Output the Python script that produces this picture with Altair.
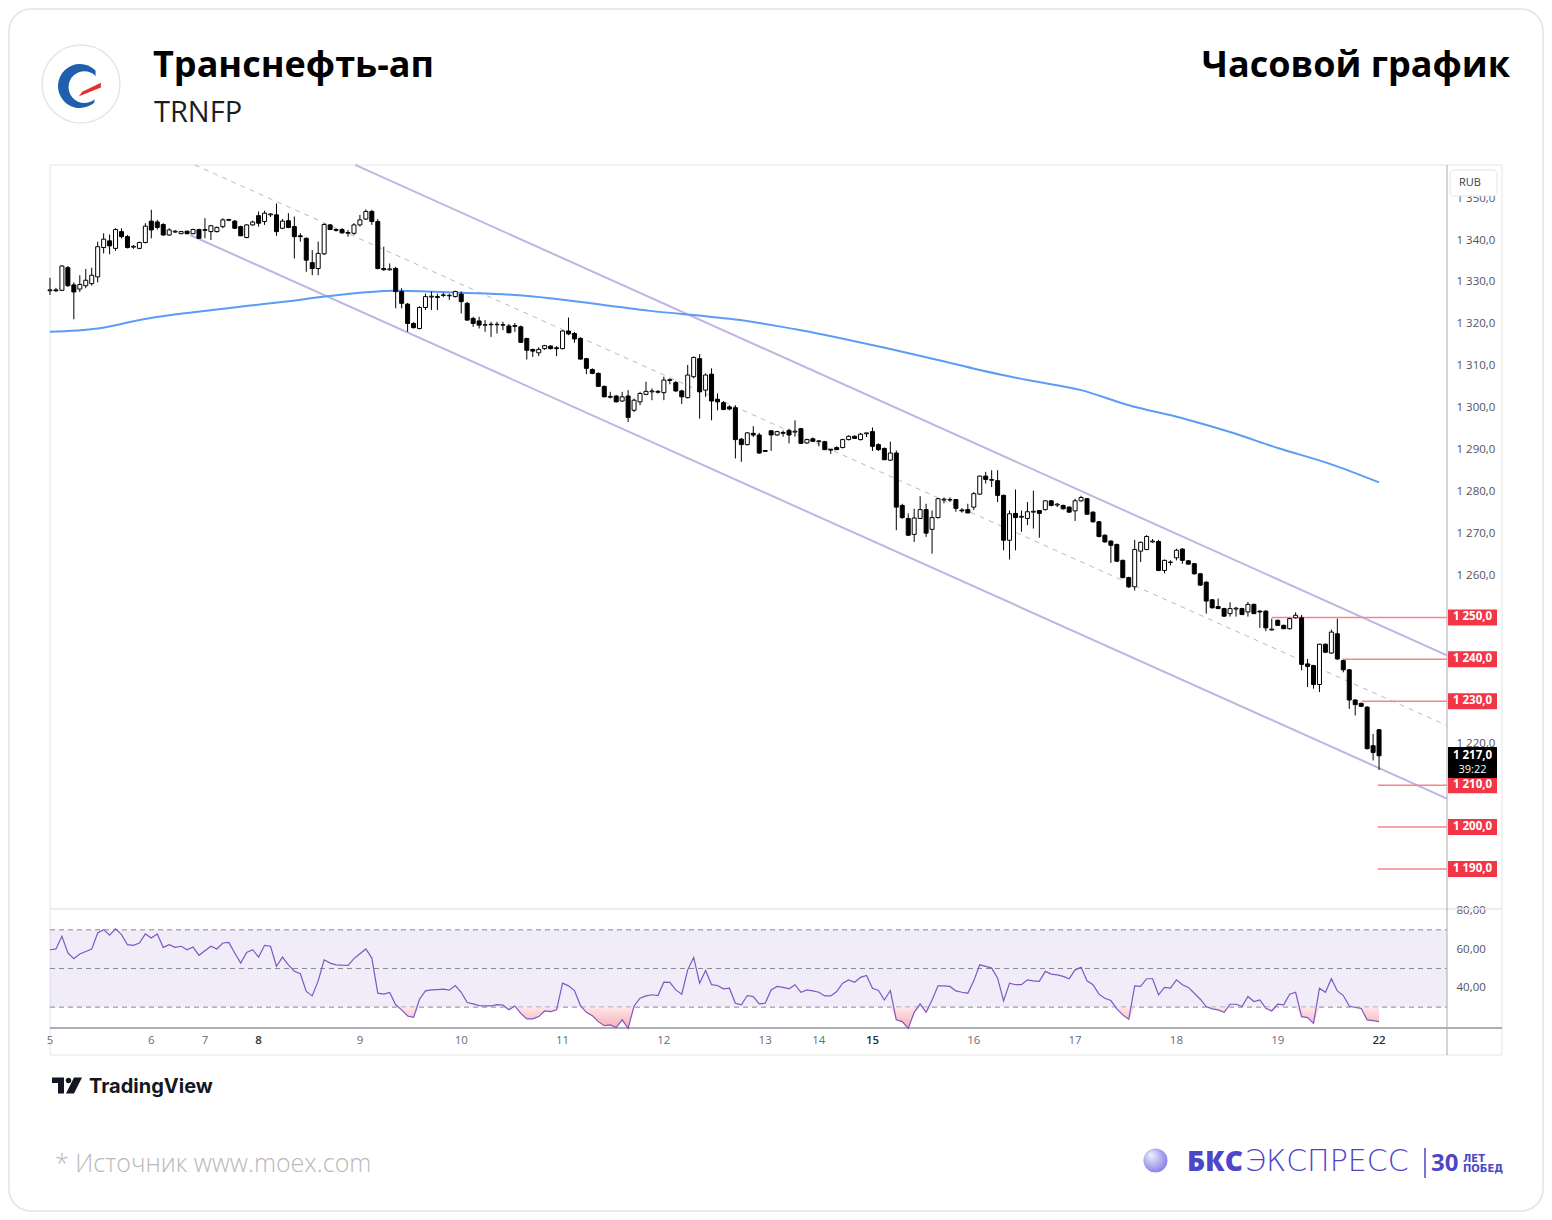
import altair as alt
import pandas as pd

# ---------------- data ----------------
OPEN = [
    1327.9, 1328.1, 1328.0, 1333.4, 1329.3, 1328.3, 1329.1, 1329.6, 1331.2, 1338.2,
    1339.8, 1338.0, 1342.0, 1340.8, 1338.3, 1338.0, 1339.4, 1344.5, 1344.3, 1343.7,
    1341.2, 1341.9, 1341.5, 1342.1, 1341.5, 1342.5, 1342.3, 1342.0, 1342.0, 1343.2,
    1344.7, 1344.5, 1343.2, 1340.6, 1343.6, 1345.8, 1344.4, 1346.0, 1346.0, 1342.8,
    1344.6, 1343.2, 1341.0, 1340.4, 1334.6, 1333.2, 1336.7, 1343.6, 1342.5, 1342.5,
    1341.6, 1341.6, 1343.6, 1345.0, 1346.8, 1344.4, 1333.2, 1332.9, 1333.2, 1327.7,
    1324.7, 1320.1, 1318.9, 1323.9, 1326.4, 1326.5, 1326.8, 1326.7, 1326.5, 1327.1,
    1324.9, 1321.3, 1320.7, 1319.7, 1319.9, 1319.8, 1319.8, 1319.5, 1319.4, 1319.3,
    1316.5, 1313.9, 1313.1, 1314.1, 1314.7, 1314.3, 1314.1, 1318.3, 1317.7, 1316.5,
    1311.7, 1309.1, 1308.2, 1305.1, 1302.5, 1302.8, 1301.6, 1302.8, 1299.4, 1301.4,
    1303.2, 1303.8, 1303.9, 1303.6, 1306.5, 1306.0, 1304.0, 1302.4, 1307.4, 1311.7,
    1304.2, 1308.0, 1302.0, 1301.2, 1300.2, 1300.0, 1292.5, 1291.2, 1293.9, 1293.5,
    1289.8, 1294.5, 1293.5, 1293.9, 1294.6, 1294.2, 1295.0, 1291.6, 1292.6, 1291.9,
    1291.9, 1290.1, 1290.5, 1290.5, 1292.4, 1293.2, 1292.4, 1293.8, 1294.3, 1291.2,
    1290.3, 1287.5, 1289.2, 1276.7, 1273.6, 1269.8, 1273.6, 1275.7, 1271.0, 1273.8,
    1278.0, 1278.0, 1278.1, 1275.6, 1275.7, 1276.3, 1279.4, 1283.7, 1282.7, 1282.6,
    1279.1, 1268.4, 1274.8, 1273.9, 1273.6, 1275.1, 1275.5, 1275.7, 1277.8, 1276.8,
    1276.7, 1276.3, 1275.4, 1277.8, 1278.3, 1275.1, 1272.8, 1269.6, 1268.2, 1267.4,
    1263.6, 1259.5, 1257.3, 1265.8, 1266.2, 1268.0, 1268.1, 1261.2, 1263.1, 1264.2,
    1266.3, 1263.5, 1262.8, 1260.4, 1258.4, 1254.2, 1252.6, 1252.1, 1250.9, 1252.0,
    1252.1, 1251.3, 1253.1, 1251.5, 1251.5, 1247.0, 1249.3, 1248.1, 1247.3, 1249.9,
    1249.9, 1238.9, 1238.5, 1234.0, 1243.6, 1241.5, 1246.1, 1239.7, 1237.5, 1230.3,
    1229.5, 1228.6, 1219.4, 1223.2,
]
HIGH = [
    1331.0, 1328.6, 1334.0, 1333.8, 1329.9, 1331.6, 1333.1, 1333.4, 1339.6, 1341.6,
    1341.3, 1342.8, 1342.8, 1341.2, 1338.8, 1339.6, 1344.0, 1347.2, 1344.8, 1344.0,
    1342.8, 1342.4, 1342.2, 1342.2, 1342.7, 1342.7, 1345.2, 1343.6, 1343.2, 1345.2,
    1345.0, 1344.8, 1343.4, 1343.8, 1344.6, 1346.8, 1347.0, 1346.4, 1348.7, 1345.0,
    1346.4, 1345.6, 1341.6, 1340.6, 1337.6, 1339.6, 1344.0, 1343.8, 1342.8, 1342.8,
    1342.4, 1344.0, 1346.0, 1347.3, 1347.2, 1345.0, 1338.4, 1334.4, 1333.6, 1328.5,
    1325.0, 1320.4, 1324.2, 1327.2, 1327.7, 1327.2, 1327.4, 1327.2, 1327.9, 1327.7,
    1325.2, 1321.7, 1321.7, 1320.9, 1320.5, 1320.5, 1320.5, 1320.0, 1320.2, 1319.6,
    1316.7, 1314.1, 1314.4, 1315.0, 1314.9, 1314.7, 1318.5, 1321.5, 1318.1, 1316.8,
    1311.9, 1309.4, 1308.4, 1305.3, 1303.8, 1303.0, 1303.8, 1304.2, 1302.2, 1303.8,
    1306.2, 1304.6, 1304.2, 1307.4, 1307.0, 1306.4, 1304.3, 1310.2, 1312.2, 1312.8,
    1308.2, 1309.4, 1303.4, 1301.6, 1300.6, 1300.6, 1292.8, 1294.2, 1295.6, 1294.0,
    1289.9, 1294.6, 1294.5, 1294.6, 1295.0, 1297.0, 1295.2, 1292.6, 1292.9, 1292.3,
    1292.1, 1290.2, 1290.8, 1292.6, 1293.4, 1293.4, 1294.0, 1294.0, 1295.3, 1291.5,
    1290.5, 1291.9, 1289.8, 1277.1, 1274.8, 1275.9, 1278.9, 1277.1, 1275.5, 1278.5,
    1278.6, 1278.6, 1278.2, 1276.0, 1277.1, 1279.9, 1283.8, 1284.7, 1285.1, 1285.1,
    1279.3, 1275.5, 1280.5, 1275.5, 1277.5, 1280.2, 1275.6, 1277.9, 1278.0, 1277.3,
    1276.9, 1276.5, 1278.3, 1279.0, 1278.5, 1275.3, 1273.0, 1269.8, 1268.4, 1267.6,
    1263.8, 1259.7, 1268.5, 1268.1, 1269.6, 1268.7, 1268.5, 1263.8, 1263.6, 1266.4,
    1266.5, 1263.7, 1263.0, 1260.6, 1258.6, 1254.4, 1254.5, 1252.3, 1253.6, 1252.5,
    1252.3, 1253.7, 1253.3, 1251.7, 1251.7, 1249.7, 1249.5, 1248.3, 1249.9, 1251.2,
    1250.6, 1240.1, 1238.7, 1243.7, 1243.8, 1247.1, 1249.7, 1239.9, 1237.7, 1230.5,
    1229.7, 1228.8, 1222.2, 1223.4,
]
LOW = [
    1326.9, 1327.6, 1327.8, 1328.8, 1321.1, 1327.6, 1328.5, 1329.1, 1329.9, 1336.8,
    1336.6, 1337.4, 1340.4, 1338.0, 1337.9, 1337.8, 1339.2, 1340.4, 1342.5, 1341.0,
    1341.0, 1341.7, 1341.4, 1341.4, 1341.4, 1340.4, 1340.4, 1340.0, 1341.8, 1342.8,
    1344.5, 1342.6, 1341.0, 1340.4, 1343.4, 1343.2, 1343.6, 1345.5, 1341.0, 1342.6,
    1342.8, 1335.6, 1339.6, 1332.4, 1331.6, 1331.6, 1336.4, 1342.4, 1342.0, 1341.5,
    1340.8, 1341.2, 1343.2, 1344.8, 1343.6, 1333.0, 1332.7, 1332.7, 1323.7, 1323.7,
    1318.1, 1318.9, 1318.7, 1323.3, 1323.3, 1323.3, 1326.4, 1325.7, 1326.3, 1322.5,
    1320.8, 1319.3, 1318.9, 1318.1, 1316.9, 1317.7, 1318.5, 1317.7, 1318.1, 1315.5,
    1311.5, 1312.1, 1312.3, 1313.8, 1313.9, 1312.3, 1313.9, 1317.3, 1315.5, 1311.5,
    1308.0, 1308.0, 1305.0, 1302.5, 1302.2, 1301.3, 1301.4, 1296.6, 1299.0, 1300.6,
    1303.0, 1301.8, 1303.4, 1301.8, 1305.6, 1303.8, 1300.9, 1302.2, 1307.0, 1297.4,
    1302.6, 1297.0, 1299.4, 1299.4, 1299.4, 1287.9, 1287.1, 1291.0, 1293.0, 1289.0,
    1289.5, 1289.7, 1293.3, 1293.1, 1291.5, 1293.1, 1291.4, 1291.4, 1291.8, 1290.8,
    1289.9, 1289.0, 1289.9, 1290.3, 1292.2, 1292.6, 1292.2, 1293.0, 1289.7, 1289.7,
    1287.5, 1287.3, 1270.8, 1273.5, 1269.4, 1268.0, 1273.5, 1269.2, 1265.2, 1273.6,
    1277.2, 1277.5, 1275.2, 1275.0, 1274.9, 1275.6, 1279.2, 1281.9, 1281.1, 1277.5,
    1266.0, 1263.8, 1266.0, 1270.4, 1272.0, 1271.2, 1269.0, 1275.5, 1276.5, 1276.3,
    1275.7, 1275.0, 1273.0, 1277.6, 1274.6, 1272.6, 1269.1, 1267.8, 1263.0, 1263.2,
    1259.3, 1257.0, 1256.4, 1263.2, 1266.0, 1267.8, 1261.0, 1260.5, 1262.4, 1263.6,
    1262.8, 1262.6, 1260.2, 1257.5, 1250.9, 1252.1, 1252.0, 1250.1, 1250.2, 1250.2,
    1250.5, 1250.2, 1250.8, 1247.5, 1246.7, 1246.9, 1248.0, 1247.2, 1247.1, 1249.7,
    1237.4, 1233.4, 1233.0, 1232.2, 1241.5, 1241.3, 1239.8, 1236.9, 1228.2, 1226.6,
    1228.6, 1218.5, 1215.9, 1213.6,
]
CLOSE = [
    1328.1, 1327.9, 1333.8, 1329.1, 1327.6, 1329.4, 1330.4, 1331.6, 1338.4, 1340.2,
    1338.6, 1342.5, 1340.8, 1338.2, 1338.5, 1339.4, 1343.3, 1342.4, 1343.0, 1341.2,
    1342.4, 1342.1, 1342.0, 1341.5, 1342.5, 1340.4, 1342.5, 1343.4, 1343.0, 1344.8,
    1344.9, 1342.8, 1341.0, 1343.6, 1344.3, 1344.0, 1346.4, 1346.2, 1342.0, 1344.5,
    1343.0, 1340.8, 1340.8, 1335.2, 1333.2, 1336.8, 1343.7, 1342.5, 1342.3, 1341.7,
    1341.8, 1343.6, 1344.8, 1346.8, 1344.4, 1333.2, 1332.9, 1333.1, 1327.7, 1324.9,
    1320.1, 1319.1, 1323.9, 1326.5, 1326.6, 1326.3, 1326.9, 1326.8, 1327.7, 1325.3,
    1320.9, 1320.1, 1319.7, 1319.8, 1319.8, 1319.9, 1319.7, 1317.9, 1319.6, 1315.6,
    1313.7, 1313.5, 1313.9, 1314.8, 1314.1, 1314.1, 1318.3, 1317.6, 1316.4, 1311.6,
    1309.4, 1308.2, 1305.1, 1302.6, 1302.7, 1301.4, 1302.6, 1297.7, 1301.8, 1303.4,
    1303.9, 1304.0, 1303.7, 1306.6, 1306.7, 1304.0, 1302.6, 1307.8, 1312.0, 1303.8,
    1307.8, 1301.6, 1301.4, 1299.6, 1299.7, 1292.4, 1291.2, 1294.0, 1293.5, 1289.2,
    1289.6, 1293.5, 1294.3, 1294.1, 1293.5, 1294.4, 1291.5, 1292.4, 1292.0, 1292.1,
    1290.0, 1289.9, 1290.0, 1292.4, 1293.2, 1292.7, 1293.7, 1294.0, 1290.8, 1290.0,
    1287.6, 1289.2, 1276.3, 1273.8, 1269.6, 1273.7, 1275.7, 1270.1, 1273.8, 1278.3,
    1278.2, 1278.1, 1276.0, 1275.4, 1274.9, 1279.5, 1283.7, 1282.9, 1282.9, 1279.1,
    1268.4, 1274.7, 1273.8, 1274.1, 1275.2, 1275.3, 1274.8, 1277.8, 1276.7, 1277.0,
    1275.9, 1275.1, 1277.8, 1278.6, 1274.6, 1272.8, 1269.3, 1268.0, 1267.2, 1263.4,
    1259.5, 1257.3, 1266.2, 1267.9, 1269.3, 1268.2, 1261.2, 1263.6, 1263.2, 1266.0,
    1263.6, 1262.7, 1260.4, 1257.7, 1253.9, 1252.3, 1252.1, 1250.3, 1252.1, 1252.2,
    1250.7, 1253.1, 1250.9, 1251.3, 1247.5, 1247.2, 1248.1, 1247.3, 1249.7, 1250.5,
    1238.8, 1238.3, 1234.0, 1243.6, 1241.7, 1246.5, 1240.1, 1237.5, 1230.3, 1229.2,
    1228.8, 1218.7, 1217.8, 1217.0,
]
RSI = [
    59.7, 60.1, 66.7, 58.0, 55.1, 57.5, 58.8, 60.0, 68.4, 70.1,
    67.2, 70.5, 67.5, 62.3, 62.0, 63.2, 67.9, 65.8, 67.9, 60.9,
    62.3, 60.9, 61.5, 59.7, 61.1, 56.8, 59.2, 61.5, 60.1, 63.2,
    63.5, 58.0, 52.8, 58.3, 59.7, 55.9, 62.0, 61.5, 51.1, 55.9,
    51.9, 48.6, 47.3, 38.1, 35.8, 43.6, 54.5, 52.8, 51.9, 51.7,
    51.6, 55.1, 57.6, 60.1, 55.4, 37.2, 36.7, 37.6, 31.2, 28.6,
    25.4, 24.7, 34.1, 38.4, 38.9, 39.1, 39.3, 38.8, 41.2, 37.7,
    32.4, 31.7, 30.8, 30.7, 30.6, 31.3, 31.1, 28.6, 30.6, 26.8,
    23.9, 23.9, 25.1, 28.0, 27.7, 28.6, 42.4, 41.0, 38.6, 30.8,
    27.3, 25.6, 22.5, 20.4, 20.8, 19.4, 23.4, 19.0, 30.6, 34.6,
    35.8, 36.4, 36.0, 42.9, 42.8, 38.9, 36.7, 49.3, 55.7, 42.4,
    49.0, 41.6, 41.2, 39.5, 39.8, 32.0, 31.2, 36.0, 35.5, 31.7,
    32.0, 38.9, 40.7, 40.2, 39.5, 41.6, 37.7, 38.9, 38.4, 37.7,
    35.8, 35.8, 38.1, 42.4, 44.1, 42.9, 45.4, 46.4, 39.8, 38.6,
    33.7, 38.6, 23.4, 22.5, 19.0, 27.3, 31.7, 27.3, 33.7, 41.0,
    41.0, 40.7, 38.4, 37.7, 37.2, 43.6, 51.9, 51.1, 50.2, 45.0,
    33.2, 42.4, 41.6, 41.6, 44.1, 43.6, 43.3, 48.5, 47.1, 46.7,
    45.9, 44.7, 49.3, 50.6, 43.6, 41.6, 36.7, 34.6, 33.4, 29.1,
    26.0, 23.7, 41.0, 40.7, 44.7, 44.7, 36.4, 40.2, 39.8, 44.1,
    41.6, 40.2, 37.2, 34.1, 30.3, 29.1, 28.6, 27.3, 31.5, 31.5,
    30.3, 35.5, 32.9, 33.7, 29.4, 28.0, 31.5, 31.2, 36.7, 37.7,
    25.1, 24.6, 21.6, 39.8, 37.7, 44.7, 38.4, 36.0, 30.6, 29.8,
    29.4, 23.4, 23.0, 22.5,
]

# moving average (blue): bar index -> price
MA_IDX = [0, 8, 16.4, 24.8, 33.2, 40, 46.1, 57.9, 69, 78, 100.7, 115.8, 126,
          141, 149, 156, 164, 173, 181, 190, 198, 206, 215, 223]
MA_VAL = [1318.1, 1318.9, 1321.3, 1322.9, 1324.3, 1325.4, 1326.5, 1327.9, 1327.4,
          1326.9, 1323.1, 1320.9, 1318.5, 1314.0, 1311.4, 1309.0, 1306.6, 1304.2,
          1300.6, 1297.5, 1294.2, 1290.4, 1286.5, 1282.2]

# trend channel (end points)
CH_UP_IDX, CH_UP_VAL = [51.2, 234.4], [1357.9, 1240.95]
CH_LO_IDX, CH_LO_VAL = [23.5, 234.4], [1341.2, 1206.8]
CH_MID_IDX, CH_MID_VAL = [24.3, 234.4], [1357.9, 1224.2]

# horizontal levels
LEVELS = [1250, 1240, 1230, 1210, 1200, 1190]
LEVEL_FROM = [205.0, 216.9, 220.1, 222.8, 222.8, 222.8]
LEVEL_TO = 234.4

# time axis
DAY_IDX = [0, 17, 26, 35, 52, 69, 86, 103, 120, 129, 138, 155, 172, 189, 206, 223]
DAY_LABELS = ['5', '6', '7', '8', '9', '10', '11', '12', '13', '14', '15', '16',
              '17', '18', '19', '22']
WEEK_START = ['8', '15', '22']

PRICE_TICKS = [1220, 1260, 1270, 1280, 1290, 1300, 1310, 1320, 1330, 1340, 1350]
RSI_TICKS = [40, 60, 80]
RSI_LINES = [70, 50, 30]
RSI_BAND = [30, 70]
LAST_PRICE = 1217.0
LAST_TIMER = '39:22'

TITLE = 'Транснефть-ап'
TICKER = 'TRNFP'
RIGHT_TITLE = 'Часовой график'
SOURCE = '*  Источник www.moex.com'

N = len(OPEN)
assert all(len(a) == N for a in (HIGH, LOW, CLOSE, RSI))


def fmt_price(p):
    return f"{p:,.1f}".replace(',', ' ').replace('.', ',')


candles = pd.DataFrame({'i': list(range(N)), 'o': OPEN, 'h': HIGH, 'l': LOW,
                        'c': CLOSE, 'r': RSI})
candles['dir'] = ['up' if c >= o else 'down' for o, c in zip(OPEN, CLOSE)]

# ---------------- scales / axes ----------------
XS = alt.Scale(domain=[0, 234.4], range=[42, 1439], zero=False, nice=False, padding=0)
PS = alt.Scale(domain=[1190, 1350], range=[861, 190.07], zero=False, nice=False)
RS = alt.Scale(domain=[19.2, 81.3], range=[1020, 900], zero=False, nice=False)
AXF = 'Open Sans'
PAX = alt.Axis(orient='right', offset=-97, values=PRICE_TICKS,
               labelExpr="replace(replace(format(datum.value, ',.1f'), ',', ' '), '.', ',')",
               domain=False, ticks=False, tickSize=0, grid=False, labelPadding=9,
               labelColor='#50535e', labelFont=AXF, labelFontSize=11.5, title=None,
               labelFlush=False, labelOverlap=False)
RAX = alt.Axis(orient='right', offset=-97, values=RSI_TICKS,
               labelExpr="replace(format(datum.value, '.2f'), '.', ',')",
               domain=False, ticks=False, tickSize=0, grid=False, labelPadding=9,
               labelColor='#50535e', labelFont=AXF, labelFontSize=11.5, title=None,
               labelFlush=False, labelOverlap=False)


def X(f='i:Q'):
    return alt.X(f, scale=XS, axis=None)


def PY(f):
    return alt.Y(f, scale=PS, axis=PAX)


def RY(f):
    return alt.Y(f, scale=RS, axis=RAX)


ONE = pd.DataFrame({'k': [0]})


def text(s, x, y, size, weight='normal', color='#000000', align='left',
         font='Open Sans', baseline='alphabetic'):
    return alt.Chart(ONE).mark_text(text=s, fontSize=size, fontWeight=weight, color=color,
                                    align=align, baseline=baseline, font=font).encode(
        x=alt.value(x), y=alt.value(y))


def box(x1, x2, y1, y2, stroke, fill='transparent', sw=1, radius=0):
    return alt.Chart(ONE).mark_rect(fill=fill, stroke=stroke, strokeWidth=sw,
                                    cornerRadius=radius).encode(
        x=alt.value(x1), x2=alt.value(x2), y=alt.value(y1), y2=alt.value(y2))


def hrule(x1, x2, y, color, sw=1):
    return alt.Chart(ONE).mark_rule(color=color, strokeWidth=sw).encode(
        x=alt.value(x1), x2=alt.value(x2), y=alt.value(y))


def vrule(x, y1, y2, color, sw=1):
    return alt.Chart(ONE).mark_rule(color=color, strokeWidth=sw).encode(
        x=alt.value(x), y=alt.value(y1), y2=alt.value(y2))


# ---------------- decoration / frame ----------------
card = box(1, 1535, 1, 1203, '#e2e2e2', sw=1.5, radius=22)
frame = box(42, 1494, 157, 1047, '#e6e6e6')
sep_v = vrule(1439, 157, 1047, '#a6a9b1')
sep_h1 = hrule(42, 1494, 901, '#e6e6e6', 1.5)
sep_h2 = hrule(42, 1494, 1020, '#5d606b', 1)

# ---------------- RSI panel ----------------
band = alt.Chart(pd.DataFrame({'lo': [RSI_BAND[0]], 'hi': [RSI_BAND[1]]})).mark_rect(
    color='#7E57C2', opacity=0.11).encode(
    x=alt.value(42), x2=alt.value(1439), y=RY('lo:Q'), y2='hi:Q')
rsi_lv = alt.Chart(pd.DataFrame({'lv': RSI_LINES})).mark_rule(
    color='#868993', strokeWidth=1, strokeDash=[5, 4]).encode(
    x=alt.value(42), x2=alt.value(1439), y=RY('lv:Q'))
oversold = alt.Chart(candles).transform_calculate(
    lo='min(datum.r, 30)', th='30').mark_area(
    fill={"gradient": "linear", "x1": 0, "y1": 0, "x2": 0, "y2": 1,
          "stops": [{"offset": 0, "color": "#fde4e6"}, {"offset": 1, "color": "#f6a6ad"}]},
    opacity=0.9).encode(x=X(), y=RY('lo:Q'), y2='th:Q')
rsi_line = alt.Chart(candles).mark_line(color='#7E57C2', strokeWidth=1.2).encode(
    x=X(), y=RY('r:Q'))
rsi_group = alt.layer(band, rsi_lv, oversold, rsi_line)

# ---------------- price panel ----------------
ch_df = pd.DataFrame({'i': CH_UP_IDX + CH_LO_IDX, 'v': CH_UP_VAL + CH_LO_VAL,
                      'g': ['up', 'up', 'lo', 'lo']})
channel = alt.Chart(ch_df).mark_line(color='#C3B3E4', strokeWidth=2).encode(
    x=X(), y=PY('v:Q'), detail='g:N')
mid = alt.Chart(pd.DataFrame({'i': CH_MID_IDX, 'v': CH_MID_VAL})).mark_line(
    color='#B8BBC4', strokeWidth=1, strokeDash=[5, 5]).encode(x=X(), y=PY('v:Q'))
ma = alt.Chart(pd.DataFrame({'i': MA_IDX, 'v': MA_VAL})).mark_line(
    color='#5B9CF6', strokeWidth=2, interpolate='monotone').encode(x=X(), y=PY('v:Q'))
lv_df = pd.DataFrame({'p': LEVELS, 'i0': LEVEL_FROM, 'i1': [LEVEL_TO] * len(LEVELS),
                      'txt': [fmt_price(p) for p in LEVELS]})
levels = alt.Chart(lv_df).mark_rule(color='#F5848F', strokeWidth=1.5).encode(
    x=X('i0:Q'), x2='i1:Q', y=PY('p:Q'))
wicks = alt.Chart(candles).mark_rule(color='#000000', strokeWidth=1).encode(
    x=X(), y=PY('l:Q'), y2='h:Q')
bodies = alt.Chart(candles).mark_bar(width=4, stroke='#000000', strokeWidth=1).encode(
    x=X(), y=PY('o:Q'), y2='c:Q',
    fill=alt.Fill('dir:N', scale=alt.Scale(domain=['up', 'down'], range=['#ffffff', '#000000']),
                  legend=None))

TAG = 'M-1,-0.3265H1V0.3265H-1Z'
tags = alt.Chart(lv_df).mark_point(shape=TAG, size=2401, filled=True, color='#F23645',
                                   opacity=1, strokeWidth=0).encode(
    x=alt.value(1464.5), y=PY('p:Q'))
tag_txt = alt.Chart(lv_df).mark_text(color='#ffffff', font=AXF, fontSize=11.5,
                                     fontWeight='bold').encode(
    x=alt.value(1464.5), y=PY('p:Q'), text='txt:N')
last_df = pd.DataFrame({'p': [LAST_PRICE], 'txt': [fmt_price(LAST_PRICE)], 'tm': [LAST_TIMER]})
LAST = 'M-1,-0.36H1V0.91H-1Z'
last_tag = alt.Chart(last_df).mark_point(shape=LAST, size=2401, filled=True, color='#000000',
                                         opacity=1, strokeWidth=0).encode(
    x=alt.value(1464.5), y=PY('p:Q'))
last_txt = alt.Chart(last_df).mark_text(color='#ffffff', font=AXF, fontSize=11.5,
                                        fontWeight='bold').encode(
    x=alt.value(1464.5), y=PY('p:Q'), text='txt:N')
last_tm = alt.Chart(last_df).mark_text(color='#ffffff', font=AXF, fontSize=11, dy=14).encode(
    x=alt.value(1464.5), y=PY('p:Q'), text='tm:N')

day_df = pd.DataFrame({'i': DAY_IDX, 'lab': DAY_LABELS,
                       'wk': [d in WEEK_START for d in DAY_LABELS]})
days_n = alt.Chart(day_df).transform_filter('!datum.wk').mark_text(
    font=AXF, fontSize=11.5, color='#6a6d78', baseline='middle').encode(
    x=X(), y=alt.value(1033), text='lab:N')
days_b = alt.Chart(day_df).transform_filter('datum.wk').mark_text(
    font=AXF, fontSize=11.5, color='#2a2e39', fontWeight=600, baseline='middle').encode(
    x=X(), y=alt.value(1033), text='lab:N')

price_group = alt.layer(channel, mid, ma, levels, wicks, bodies, tags, tag_txt,
                        last_tag, last_txt, last_tm, days_n, days_b)

rub_box = box(1442, 1489, 162, 188, '#e0e3eb', fill='#ffffff', radius=4)
rub_txt = text('RUB', 1451, 175, 11, color='#3b3e48', font=AXF, baseline='middle')

# ---------------- header ----------------
logo_circle = alt.Chart(ONE).mark_point(shape='circle', size=6084, filled=True, fill='#ffffff',
                                        stroke='#e6e6e6', strokeWidth=1.5, opacity=1).encode(
    x=alt.value(73), y=alt.value(76))
CRESCENT = ('M0.707,-0.707 A1,1 0 1,0 0.643,0.766 L0.663,0.602 '
            'A0.72,0.72 0 1,1 0.709,-0.459 Z')
STRIPE = 'M-0.05,0.47 L0.95,0.07 L0.95,-0.15 L0.1,0.26 Z'
logo_blue = alt.Chart(ONE).mark_point(shape=CRESCENT, size=1936, filled=True, color='#1f5fae',
                                      opacity=1, strokeWidth=0).encode(
    x=alt.value(72), y=alt.value(78))
logo_red = alt.Chart(ONE).mark_point(shape=STRIPE, size=1936, filled=True, color='#e2302f',
                                     opacity=1, strokeWidth=0).encode(
    x=alt.value(72), y=alt.value(78))
title = text(TITLE, 145, 69, 36, weight='bold')
ticker = text(TICKER, 146, 114, 29, color='#1d1d1d')
rtitle = text(RIGHT_TITLE, 1502, 69, 36, weight='bold', align='right')

# ---------------- footer ----------------
TV_PATH = ('M-1,-0.533H-0.2V0.533H-0.6V-0.167H-1Z '
           'M-0.087,-0.333A0.187,0.187 0 1,0 0.287,-0.333A0.187,0.187 0 1,0 -0.087,-0.333Z '
           'M0.467,-0.533H1L0.467,0.533H-0.067Z')
tv_logo = alt.Chart(ONE).mark_point(shape=TV_PATH, size=900, filled=True, color='#131722',
                                    opacity=1, strokeWidth=0).encode(
    x=alt.value(59), y=alt.value(1077.5))
tv_txt = text('TradingView', 81, 1085, 20, weight='bold', color='#131722', font='Inter')
source = text(SOURCE, 47, 1164, 25, weight=300, color='#b9b9b9')

BKS = '#4E45C9'
sphere = alt.Chart(ONE).mark_point(
    shape='circle', size=576, filled=True, opacity=1, strokeWidth=0,
    fill={"gradient": "radial", "x1": 0.3, "y1": 0.25, "r1": 0, "x2": 0.45, "y2": 0.45, "r2": 0.65,
          "stops": [{"offset": 0, "color": "#f3f2ff"}, {"offset": 1, "color": "#7d76e2"}]}).encode(
    x=alt.value(1147.5), y=alt.value(1152.5))
bks1 = text('БКС', 1179, 1163, 28, weight=800, color=BKS)
bks2 = text('ЭКСПРЕСС', 1237, 1163, 30, weight=200, color=BKS, font='DejaVu Sans')
bks_div = vrule(1417, 1140, 1170, BKS, 1.5)
bks3 = text('30', 1423, 1163, 24, weight='bold', color=BKS)
bks4 = text('ЛЕТ', 1455, 1154, 10, weight='bold', color=BKS, font='DejaVu Sans')
bks5 = text('ПОБЕД', 1455, 1164, 10, weight='bold', color=BKS, font='DejaVu Sans')

chart = alt.layer(
    card, frame, sep_h1, rsi_group, sep_h2, sep_v, price_group, rub_box, rub_txt,
    logo_circle, logo_blue, logo_red, title, ticker, rtitle,
    tv_logo, tv_txt, source, sphere, bks1, bks2, bks_div, bks3, bks4, bks5
).resolve_scale(y='independent').properties(
    width=1536, height=1204, padding=0, background='#ffffff',
    autosize=alt.AutoSizeParams(type='none')
).configure_view(strokeWidth=0)

chart.save("out.html", embed_options={"renderer": "svg", "actions": False})
